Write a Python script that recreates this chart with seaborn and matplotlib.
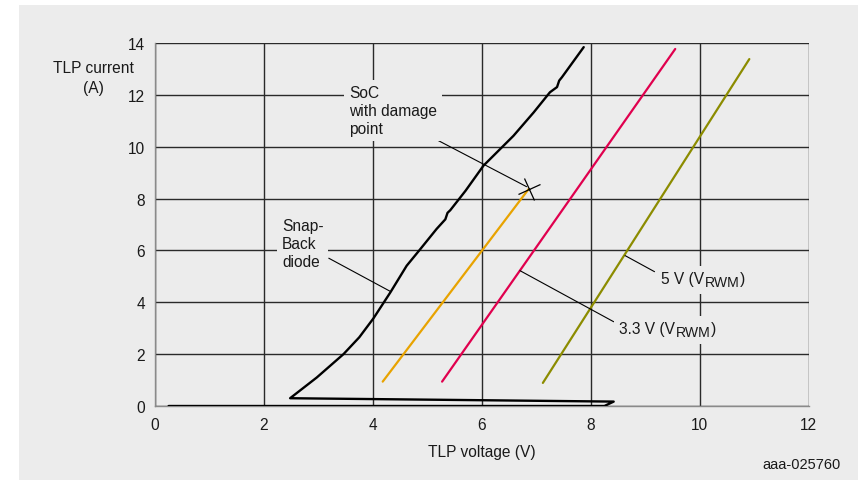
import matplotlib
matplotlib.use("Agg")
import matplotlib.pyplot as plt
import matplotlib.patches as mpatches
from matplotlib.markers import MarkerStyle
from matplotlib.transforms import Affine2D, Bbox
import seaborn as sns
import pandas as pd

# ---- data ----
diode_x = [0.25, 8.25, 8.42, 2.48, 2.97, 3.46, 3.75, 4.01, 4.32, 4.62, 4.87, 5.17,
           5.33, 5.37, 5.42, 5.70, 6.03, 6.58, 6.95, 7.25, 7.38, 7.42, 7.47, 7.87]
diode_y = [0.0, 0.0, 0.17, 0.30, 1.10, 2.00, 2.65, 3.38, 4.38, 5.41, 6.05, 6.83,
           7.20, 7.45, 7.55, 8.30, 9.27, 10.42, 11.32, 12.10, 12.30, 12.55, 12.68, 13.84]
soc_x = [4.18, 6.86]
soc_y = [0.94, 8.37]
v33_x = [5.27, 9.55]
v33_y = [0.94, 13.77]
v5_x = [7.12, 10.91]
v5_y = [0.89, 13.38]
damage_point = (6.86, 8.37)

x_ticks = [0, 2, 4, 6, 8, 10, 12]
y_ticks = [0, 2, 4, 6, 8, 10, 12, 14]

BG = "#ececec"
FONT = "Liberation Sans"
FS = 11.2
TXT = "#1a1a1a"

sns.set_theme(style="white")
plt.rcParams["font.family"] = [FONT, "DejaVu Sans"]

fig = plt.figure(figsize=(8.58, 4.81), dpi=100)
fig.patch.set_facecolor("white")
fig.patches.append(mpatches.Rectangle((19 / 858, 0), 1 - 19 / 858, 1 - 6 / 481,
                                      transform=fig.transFigure, facecolor=BG,
                                      edgecolor="none", zorder=-10))
ax = fig.add_axes([155 / 858, 1 - 407 / 481, (808.7 - 155) / 858, (407 - 44) / 481])
ax.set_zorder(1)
ax.set_facecolor(BG)

df = pd.concat([
    pd.DataFrame({"x": diode_x, "y": diode_y, "s": "diode"}),
    pd.DataFrame({"x": soc_x, "y": soc_y, "s": "soc"}),
    pd.DataFrame({"x": v33_x, "y": v33_y, "s": "v33"}),
    pd.DataFrame({"x": v5_x, "y": v5_y, "s": "v5"}),
])
palette = {"diode": "#000000", "soc": "#e8a300", "v33": "#e0004e", "v5": "#8c8c00"}
widths = {"diode": 1.7, "soc": 1.6, "v33": 1.6, "v5": 1.6}
for name, sub in df.groupby("s", sort=False):
    sns.lineplot(data=sub, x="x", y="y", sort=False, estimator=None, ax=ax,
                 color=palette[name], lw=widths[name], zorder=3)

# damage point cross
mk = MarkerStyle("+", transform=Affine2D().rotate_deg(27))
ax.plot([damage_point[0]], [damage_point[1]], marker=mk, ms=17, mew=0.9,
        color="black", ls="none", zorder=4)

ax.set_xlim(0, 12)
ax.set_ylim(0, 14)
ax.set_xticks(x_ticks)
ax.set_yticks(y_ticks)
ax.set_xticklabels([str(t) for t in x_ticks])
ax.set_yticklabels([str(t) for t in y_ticks])
ax.tick_params(axis="both", length=0, labelsize=FS, colors=TXT)
ax.tick_params(axis="y", pad=7)
ax.tick_params(axis="x", pad=8)
ax.grid(True, color="#2a2a2a", lw=1.0, zorder=1)
ax.set_axisbelow(True)
ax.set_xlabel("")
ax.set_ylabel("")
for side in ["top", "right"]:
    ax.spines[side].set_visible(False)
for side in ["left", "bottom"]:
    ax.spines[side].set_color("#8a8a8a")
    ax.spines[side].set_linewidth(1.0)

box = dict(facecolor=BG, edgecolor="none", pad=3.5)
tkw = dict(fontsize=FS, color=TXT, ha="left", va="center", linespacing=1.25, zorder=5)

ax.text(3.56, 11.39, "SoC\nwith damage\npoint", bbox=box, **tkw)
ax.text(2.33, 6.25, "Snap-\nBack\ndiode", bbox=box, **tkw)


def vrwm_label(x, y, prefix):
    t1 = ax.text(x, y, prefix + " (V", **tkw)
    t2 = ax.annotate("RWM", xy=(1, 0.5), xycoords=t1, xytext=(0.3, -2.5),
                     textcoords="offset points", fontsize=FS * 0.9, color=TXT,
                     ha="left", va="center", zorder=5)
    t3 = ax.annotate(")", xy=(1, 0.5), xycoords=t2, xytext=(0.3, 2.5),
                     textcoords="offset points", fontsize=FS, color=TXT,
                     ha="left", va="center", zorder=5)
    return [t1, t2, t3]


vlabels = [vrwm_label(8.52, 3.0, "3.3 V"), vrwm_label(9.29, 4.90, "5 V")]

leaders = [((4.76, 10.72), (6.82, 8.46)),
           ((3.19, 5.70), (4.32, 4.42)),
           ((6.70, 5.22), (8.42, 3.25)),
           ((8.63, 5.80), (9.17, 5.18))]
for (x0, y0), (x1, y1) in leaders:
    ax.plot([x0, x1], [y0, y1], color="black", lw=0.8, zorder=4)

fig.text(93 / 858, 1 - 69 / 481, "TLP current", ha="center", va="center",
         fontsize=FS, color=TXT)
fig.text(93 / 858, 1 - 89 / 481, "(A)", ha="center", va="center",
         fontsize=FS, color=TXT)
fig.text(482 / 858, 1 - 452 / 481, "TLP voltage (V)", ha="center", va="center",
         fontsize=FS, color=TXT)
fig.text(841 / 858, 1 - 465 / 481, "aaa-025760", ha="right", va="center",
         fontsize=10.5, color=TXT)

# background masks behind the composite labels
fig.canvas.draw()
r = fig.canvas.get_renderer()
for parts in vlabels:
    bb = Bbox.union([p.get_window_extent(r) for p in parts])
    padp = 5
    rect = mpatches.Rectangle((bb.x0 - padp, bb.y0 - padp), bb.width + 2 * padp,
                              bb.height + 2 * padp, transform=None,
                              facecolor=BG, edgecolor="none", zorder=4.5)
    ax.add_artist(rect)

fig.savefig("out.png", dpi=100, facecolor="white")
